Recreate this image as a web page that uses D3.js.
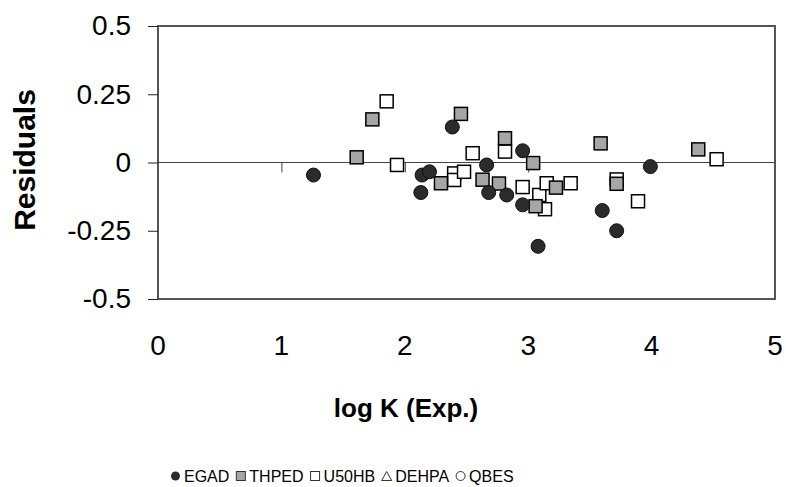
<!DOCTYPE html>
<html>
<head>
<meta charset="utf-8">
<script src="https://cdn.jsdelivr.net/npm/d3@7"></script>
<style>
  body { margin: 0; background: #fff; }
  svg { display: block; font-family: "Liberation Sans", Arial, sans-serif; }
</style>
</head>
<body>
<div id="chart"></div>
<script>
// Data: [log K (Exp.), residual]
var egad = [[1.26, -0.046], [2.13, -0.11], [2.14, -0.046], [2.20, -0.034], [2.385, 0.13],
            [2.663, -0.009], [2.68, -0.11], [2.826, -0.119], [2.955, 0.043], [2.955, -0.155],
            [3.08, -0.307], [3.60, -0.176], [3.717, -0.25], [3.99, -0.015]];
var thped = [[1.61, 0.019], [1.737, 0.158], [2.293, -0.076], [2.455, 0.178], [2.63, -0.063],
             [2.763, -0.077], [2.812, 0.089], [3.04, -0.002], [3.06, -0.16], [3.225, -0.092],
             [3.587, 0.07], [3.717, -0.078], [4.378, 0.048]];
var u50hb = [[1.853, 0.224], [1.937, -0.009], [2.40, -0.04], [2.40, -0.064], [2.48, -0.034],
             [2.55, 0.034], [2.812, 0.04], [2.955, -0.09], [3.09, -0.119], [3.136, -0.171],
             [3.15, -0.076], [3.344, -0.076], [3.717, -0.062], [3.89, -0.142], [4.527, 0.012]];
var dehpa = [];
var qbes = [];
var legendNames = ["EGAD", "THPED", "U50HB", "DEHPA", "QBES"];
var xTicks = [0, 1, 2, 3, 4, 5];
var yTicks = [-0.5, -0.25, 0, 0.25, 0.5];

var W = 786, H = 487;
var margin = {left: 158, top: 26, right: 11, bottom: 188};
var w = W - margin.left - margin.right;
var h = H - margin.top - margin.bottom;

var svg = d3.select("#chart").append("svg")
    .attr("width", W).attr("height", H);

var x = d3.scaleLinear().domain([0, 5]).range([0, w]);
var y = d3.scaleLinear().domain([-0.5, 0.5]).range([h, 0]);

var g = svg.append("g")
    .attr("transform", "translate(" + margin.left + "," + margin.top + ")");

// plot frame
g.append("rect")
    .attr("x", 0).attr("y", 0).attr("width", w).attr("height", h)
    .attr("fill", "none").attr("stroke", "#555").attr("stroke-width", 2);

// y axis ticks and labels
var yAxis = g.append("g")
    .call(d3.axisLeft(y).tickValues(yTicks).tickSize(10).tickPadding(17)
        .tickFormat(function(d) { return d === 0 ? "0" : String(d); }));
yAxis.select(".domain").remove();
yAxis.selectAll("line").attr("stroke", "#222");
yAxis.selectAll("text").attr("font-size", 28).attr("fill", "#000")
    .attr("font-family", "Liberation Sans, Arial, sans-serif");

// x axis through zero
var xAxis = g.append("g")
    .attr("transform", "translate(0," + y(0) + ")")
    .call(d3.axisBottom(x).tickValues(xTicks.slice(1, 5)).tickSize(10).tickFormat(""));
xAxis.select(".domain").attr("stroke", "#444").attr("d", "M0,0H" + w);
xAxis.selectAll("line").attr("stroke", "#444");

// x tick labels below the frame
g.append("g").selectAll("text")
    .data(xTicks).enter().append("text")
    .attr("x", function(d) { return x(d); })
    .attr("y", h + 56)
    .attr("text-anchor", "middle")
    .attr("font-size", 28)
    .text(function(d) { return d; });

// axis titles
svg.append("text")
    .attr("x", 406).attr("y", 417)
    .attr("text-anchor", "middle")
    .attr("font-size", 26).attr("font-weight", "bold")
    .text("log K (Exp.)");

svg.append("text")
    .attr("transform", "translate(35,160) rotate(-90)")
    .attr("text-anchor", "middle")
    .attr("font-size", 30).attr("font-weight", "bold")
    .text("Residuals");

// markers
var sq = 13;
function squares(data, fill) {
    g.append("g").selectAll("rect")
        .data(data).enter().append("rect")
        .attr("x", function(d) { return x(d[0]) - sq / 2; })
        .attr("y", function(d) { return y(d[1]) - sq / 2; })
        .attr("width", sq).attr("height", sq)
        .attr("fill", fill).attr("stroke", "#000").attr("stroke-width", 1.5);
}
squares(u50hb, "#fff");
squares(thped, "#a6a6a6");

g.append("g").selectAll("circle")
    .data(egad).enter().append("circle")
    .attr("cx", function(d) { return x(d[0]); })
    .attr("cy", function(d) { return y(d[1]); })
    .attr("r", 7)
    .attr("fill", "#2b2b2b").attr("stroke", "#111");

// legend: symbol, then label, laid out in a row
var lg = svg.append("g").attr("transform", "translate(0,476)");
var cursor = 171;
legendNames.forEach(function(name, i) {
    var cx = cursor + 4.5;
    if (i === 0) lg.append("circle").attr("cx", cx).attr("cy", 0).attr("r", 4.5).attr("fill", "#2b2b2b");
    if (i === 1) lg.append("rect").attr("x", cx - 4.5).attr("y", -4.5).attr("width", 9).attr("height", 9)
        .attr("fill", "#a6a6a6").attr("stroke", "#333");
    if (i === 2) lg.append("rect").attr("x", cx - 4.5).attr("y", -4.5).attr("width", 9).attr("height", 9)
        .attr("fill", "#fff").attr("stroke", "#333");
    if (i === 3) lg.append("path").attr("d", "M" + (cx - 5) + ",4.5L" + cx + ",-4.5L" + (cx + 5) + ",4.5Z")
        .attr("fill", "#fff").attr("stroke", "#333");
    if (i === 4) lg.append("circle").attr("cx", cx).attr("cy", 0).attr("r", 4.5)
        .attr("fill", "#fff").attr("stroke", "#333");
    var t = lg.append("text")
        .attr("x", cursor + 13).attr("y", 6)
        .attr("font-size", 16)
        .text(name);
    cursor += 13 + t.node().getComputedTextLength() + 7;
});
</script>
</body>
</html>
